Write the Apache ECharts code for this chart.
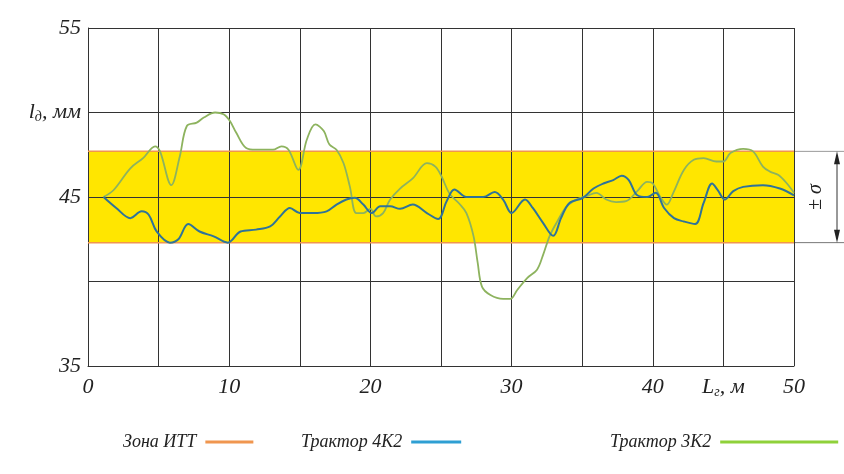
<!DOCTYPE html>
<html><head><meta charset="utf-8">
<script src="https://cdn.jsdelivr.net/npm/echarts@6/dist/echarts.min.js"></script>
<style>html,body{margin:0;padding:0;background:#fff}#c{width:844px;height:474px}</style>
</head><body><div id="c"></div>
<script>
// ---- data ----
const legendNames = ['Зона ИТТ', 'Трактор 4К2', 'Трактор 3К2'];
const zoneLow = 42.3;
const zoneHigh = 47.7;
const xLabelTicks = [0, 10, 20, 30, 40, 50];
const yLabelTicks = [55, 45, 35];
const xNameTick = 45;
const yNameTick = 50;

const t4k2X = [1.1,2.0,3.0,3.8,4.3,4.86,5.8,6.4,7.1,7.9,8.9,9.9,10.8,11.9,12.9,13.6,14.3,15.0,15.95,16.9,17.6,18.3,18.9,19.5,20.1,20.7,21.4,22.1,23.0,24.0,24.8,25.4,25.95,26.8,28.0,28.8,29.4,30.0,30.95,31.5,32.2,32.95,33.5,34.1,35.05,35.8,36.5,37.2,37.8,38.3,38.9,39.6,40.2,40.8,41.5,42.2,43.0,43.6,44.2,44.6,45.1,45.7,46.4,47.8,49.0,50.0];
const t4k2Y = [45.0,44.35,43.75,44.15,43.95,42.96,42.3,42.5,43.4,42.96,42.67,42.3,42.96,43.07,43.26,43.85,44.35,44.05,44.05,44.15,44.55,44.85,44.95,44.55,44.05,44.45,44.45,44.3,44.55,44.05,43.7,44.75,45.45,45.0,45.0,45.3,44.85,44.05,44.85,44.35,43.5,42.7,43.75,44.65,44.95,45.5,45.8,46.0,46.26,46.0,45.1,45.0,45.25,44.35,43.75,43.55,43.4,44.65,45.8,45.4,44.85,45.35,45.6,45.7,45.5,45.1];

const t3k2X = [1.1,1.8,3.0,3.9,4.75,5.1,5.9,6.5,7.0,7.7,8.2,9.0,9.6,10.05,10.5,11.2,11.9,13.1,13.7,14.2,14.9,15.5,16.1,16.7,17.1,17.6,18.1,18.55,19.0,19.5,20.0,20.4,20.9,21.4,22.1,23.0,24.0,24.6,25.05,25.6,26.3,26.8,27.3,27.6,27.9,28.5,29.4,29.9,30.4,31.1,31.8,32.2,32.7,33.2,33.9,34.6,35.3,36.0,36.7,37.4,38.1,38.9,39.6,40.0,40.5,41.0,41.45,42.2,42.9,43.6,44.5,45.0,45.5,46.4,47.1,47.8,48.3,48.9,49.5,50.0];
const t3k2Y = [45.0,45.4,46.7,47.3,48.0,47.7,45.7,47.4,49.2,49.4,49.7,50.0,49.9,49.5,48.8,47.9,47.8,47.8,48.0,47.8,46.6,48.4,49.3,48.9,48.1,47.8,47.0,45.6,44.05,44.05,44.3,43.85,44.05,44.85,45.5,46.1,47.0,46.8,46.2,45.2,44.6,44.05,42.7,41.1,39.7,39.2,38.97,38.97,39.5,40.2,40.7,41.5,42.7,43.5,44.45,44.85,45.05,45.25,44.85,44.7,44.75,45.35,45.9,45.8,45.05,44.55,45.25,46.6,47.2,47.3,47.1,47.1,47.6,47.85,47.7,46.8,46.5,46.3,45.8,45.25];

// ---- chart ----
const zip = (xs, ys) => xs.map((x, i) => [x, ys[i]]);
const serif = 'Liberation Serif';
const colors = { zone: '#f0964f', blue: '#2f7399', green: '#8db35e' };
const legendColors = ['#f0964f', '#2e9fd3', '#8fd13a'];
const gridColor = '#333';

const chart = echarts.init(document.getElementById('c'), null, { renderer: 'canvas' });

const legendText = { fontFamily: serif, fontStyle: 'italic', fontSize: 18, color: '#222', padding: [0, 4, 0, 0] };
function legendFor(i, left, width) {
  return {
    left: left, top: 428, align: 'right',
    itemWidth: width, itemHeight: 3, icon: 'rect',
    textStyle: legendText,
    data: [{ name: legendNames[i], itemStyle: { color: legendColors[i] } }]
  };
}

const option = {
  backgroundColor: '#fff',
  animation: false,
  grid: { left: 88, right: 50, top: 28, bottom: 108 },
  xAxis: {
    type: 'value', min: 0, max: 50, interval: 5,
    z: 2,
    axisLine: { show: true, lineStyle: { color: gridColor, width: 1 } },
    axisTick: { show: false },
    splitLine: { show: true, lineStyle: { color: gridColor, width: 1 } },
    axisLabel: {
      margin: 10,
      fontFamily: serif, fontStyle: 'italic', fontSize: 22, color: '#222',
      formatter: v => {
        if (v === xNameTick) return '{i|L}{s|г}{i|, м}';
        return xLabelTicks.includes(v) ? String(v) : '';
      },
      rich: {
        i: { fontFamily: serif, fontStyle: 'italic', fontSize: 22, color: '#222' },
        s: { fontFamily: serif, fontStyle: 'italic', fontSize: 14, color: '#222', padding: [9, 0, 0, 0] }
      }
    }
  },
  yAxis: {
    type: 'value', min: 35, max: 55, interval: 5,
    z: 2,
    axisLine: { show: true, lineStyle: { color: gridColor, width: 1 } },
    axisTick: { show: false },
    splitLine: { show: true, lineStyle: { color: gridColor, width: 1 } },
    axisLabel: {
      margin: 7,
      fontFamily: serif, fontStyle: 'italic', fontSize: 22, color: '#222',
      formatter: v => {
        if (v === yNameTick) return '{i|l}{s|д}{i|, мм}';
        return yLabelTicks.includes(v) ? String(v) : '';
      },
      rich: {
        i: { fontFamily: serif, fontStyle: 'italic', fontSize: 22, color: '#222' },
        s: { fontFamily: serif, fontStyle: 'italic', fontSize: 14, color: '#222', padding: [9, 0, 0, 0] }
      }
    }
  },
  legend: [
    legendFor(0, 118, 48),
    legendFor(1, 296, 50),
    legendFor(2, 605, 118)
  ],
  series: [
    {
      name: legendNames[0], type: 'line', z: 3,
      data: [[0, zoneHigh], [50, zoneHigh]],
      symbol: 'none', silent: true,
      lineStyle: { color: colors.zone, width: 1.5 },
      itemStyle: { color: colors.zone },
      markArea: {
        silent: true, z: 0, zlevel: 0,
        itemStyle: { color: '#ffe600' },
        data: [[{ yAxis: zoneLow }, { yAxis: zoneHigh }]]
      }
    },
    {
      name: legendNames[0], type: 'line', z: 3,
      data: [[0, zoneLow], [50, zoneLow]],
      symbol: 'none', silent: true,
      lineStyle: { color: colors.zone, width: 1.5 },
      itemStyle: { color: colors.zone }
    },
    {
      name: legendNames[2], type: 'line', z: 4,
      data: zip(t3k2X, t3k2Y),
      symbol: 'none', smooth: 0.35,
      lineStyle: { color: colors.green, width: 1.8 },
      itemStyle: { color: colors.green }
    },
    {
      name: legendNames[1], type: 'line', z: 5,
      data: zip(t4k2X, t4k2Y),
      symbol: 'none', smooth: 0.35,
      lineStyle: { color: colors.blue, width: 2 },
      itemStyle: { color: colors.blue }
    }
  ]
};
chart.setOption(option);

// ± sigma annotation, positioned via the chart's own scales
const xr = chart.convertToPixel({ xAxisIndex: 0 }, 50);
const yt = chart.convertToPixel({ yAxisIndex: 0 }, zoneHigh);
const yb = chart.convertToPixel({ yAxisIndex: 0 }, zoneLow);
const ym = (yt + yb) / 2;
const ax = xr + 43;
chart.setOption({
  graphic: [
    { type: 'line', shape: { x1: xr, y1: yt, x2: 844, y2: yt }, style: { stroke: '#999', lineWidth: 1 } },
    { type: 'line', shape: { x1: xr, y1: yb, x2: 844, y2: yb }, style: { stroke: '#777', lineWidth: 1 } },
    { type: 'line', shape: { x1: ax, y1: yt + 8, x2: ax, y2: yb - 8 }, style: { stroke: '#333', lineWidth: 1 } },
    { type: 'polygon', shape: { points: [[ax, yt], [ax - 3, yt + 13], [ax + 3, yt + 13]] }, style: { fill: '#222' } },
    { type: 'polygon', shape: { points: [[ax, yb], [ax - 3, yb - 13], [ax + 3, yb - 13]] }, style: { fill: '#222' } },
    { type: 'text', x: xr + 22, y: ym, rotation: Math.PI / 2,
      style: { text: '± σ', fontFamily: serif, fontStyle: 'italic', fontSize: 20, fill: '#222', align: 'center', verticalAlign: 'middle' } }
  ]
});
</script>
</body></html>
